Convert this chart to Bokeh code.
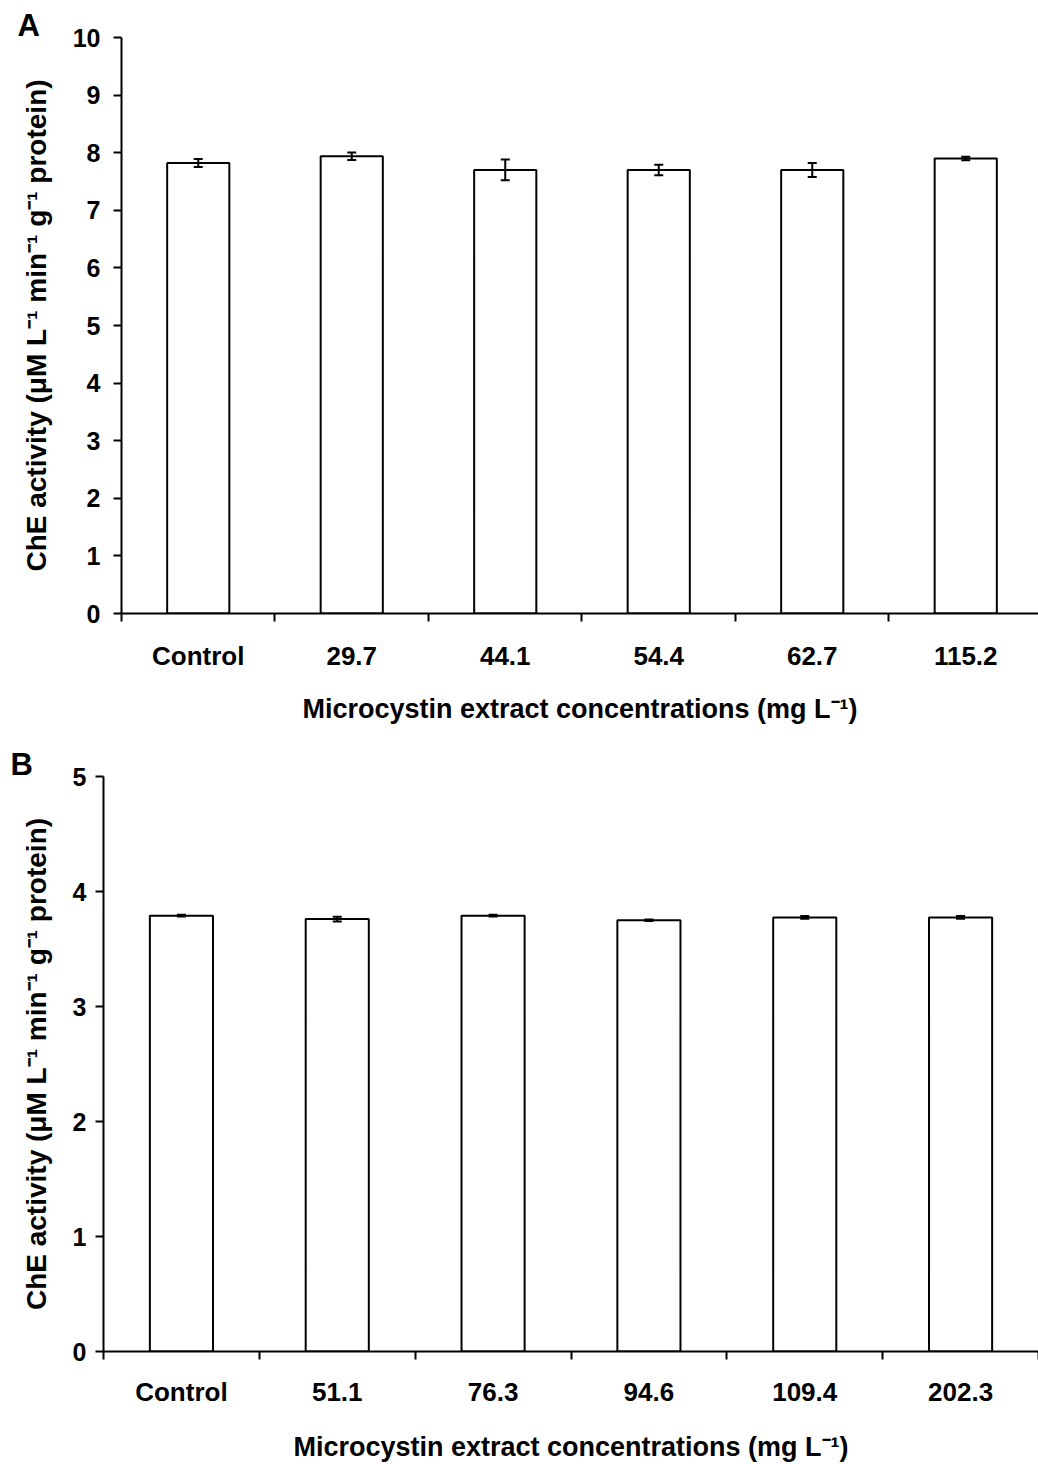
import numpy as np
from bokeh.plotting import figure
from bokeh.models import FixedTicker, Whisker, ColumnDataSource, TeeHead, Range1d, Title
from bokeh.embed import file_html
from bokeh.resources import INLINE

# Panel A data
labels_a = ["Control", "29.7", "44.1", "54.4", "62.7", "115.2"]
values_a = [7.82, 7.94, 7.70, 7.70, 7.70, 7.90]
errors_a = [0.07, 0.065, 0.18, 0.09, 0.12, 0.03]

# Panel B data
labels_b = ["Control", "51.1", "76.3", "94.6", "109.4", "202.3"]
values_b = [3.79, 3.76, 3.79, 3.75, 3.775, 3.775]
errors_b = [0.008, 0.02, 0.008, 0.006, 0.012, 0.012]

y_title = "ChE activity (\u03bcM L\u207b\u00b9 min\u207b\u00b9 g\u207b\u00b9 protein)"
x_title = "Microcystin extract concentrations (mg L\u207b\u00b9)"

FONT = "Liberation Sans"


def make_panel(labels, values, errors, ymax, height, left, top, bottom, x_end,
               ylab_standoff, ytitle_standoff, xlab_standoff, xtitle_standoff,
               letter, letter_offset, letter_standoff):
    n = len(labels)
    xs = np.arange(n)
    p = figure(width=1038, height=height,
               x_range=Range1d(-0.5, x_end), y_range=Range1d(0, ymax),
               output_backend="svg", toolbar_location=None,
               min_border_left=left, min_border_right=0,
               min_border_top=top, min_border_bottom=bottom)
    p.outline_line_color = None
    p.xgrid.grid_line_color = None
    p.ygrid.grid_line_color = None
    p.background_fill_color = "white"
    p.border_fill_color = "white"

    vals = np.array(values)
    errs = np.array(errors)
    src = ColumnDataSource(dict(x=xs, top=vals, upper=vals + errs, lower=vals - errs))
    p.vbar(x="x", top="top", width=0.405, source=src, fill_color="white",
           line_color="black", line_width=2)
    w = Whisker(source=src, base="x", upper="upper", lower="lower",
                line_color="black", line_width=2, level="annotation",
                upper_head=TeeHead(size=9, line_color="black", line_width=2),
                lower_head=TeeHead(size=9, line_color="black", line_width=2))
    p.add_layout(w)

    # x axis
    xa = p.xaxis[0]
    xa.ticker = FixedTicker(ticks=list(xs), minor_ticks=[i - 0.5 for i in range(n + 1)])
    xa.major_label_overrides = {int(i): lab for i, lab in zip(xs, labels)}
    xa.major_tick_out = 0
    xa.major_tick_in = 0
    xa.minor_tick_out = 8
    xa.minor_tick_in = 0
    xa.minor_tick_line_color = "black"
    xa.minor_tick_line_width = 2
    xa.axis_line_color = "black"
    xa.axis_line_width = 2
    xa.major_label_standoff = xlab_standoff
    xa.axis_label = x_title
    xa.axis_label_standoff = xtitle_standoff
    xa.major_label_text_font_size = "26px"
    xa.axis_label_text_font_size = "27px"

    # y axis
    ya = p.yaxis[0]
    ya.ticker = FixedTicker(ticks=list(range(0, ymax + 1)), minor_ticks=[])
    ya.major_tick_out = 8
    ya.major_tick_in = 0
    ya.minor_tick_out = 0
    ya.minor_tick_in = 0
    ya.major_tick_line_color = "black"
    ya.major_tick_line_width = 2
    ya.axis_line_color = "black"
    ya.axis_line_width = 2
    ya.major_label_standoff = ylab_standoff
    ya.axis_label = y_title
    ya.axis_label_standoff = ytitle_standoff
    ya.major_label_text_font_size = "25px"
    ya.axis_label_text_font_size = "28px"

    for ax in (xa, ya):
        ax.major_label_text_font = FONT
        ax.major_label_text_font_style = "bold"
        ax.major_label_text_color = "black"
        ax.axis_label_text_font = FONT
        ax.axis_label_text_font_style = "bold"
        ax.axis_label_text_color = "black"

    t = Title(text=letter, align="left", offset=letter_offset, standoff=letter_standoff,
              text_font=FONT, text_font_style="bold", text_font_size="31px",
              text_color="black")
    p.add_layout(t, "above")
    return p


pa = make_panel(labels_a, values_a, errors_a, 10, 740, 121, 37, 127, 5.474,
                13, 18, 19, 20, "A", 17 - 121, -10)
pb = make_panel(labels_b, values_b, errors_b, 5, 724, 103, 36, 110, 5.5,
                9, 18, 17, 22, "B", 10 - 103, -11)

open("out.html", "w").write(file_html([pa, pb], INLINE))
